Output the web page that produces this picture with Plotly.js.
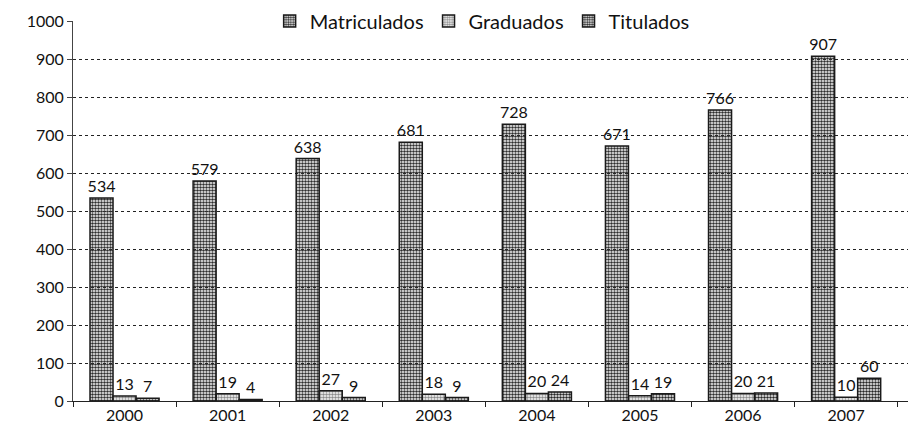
<!DOCTYPE html>
<html><head><meta charset="utf-8">
<script src="https://cdn.plot.ly/plotly-3.0.1.min.js"></script>
<style>html,body{margin:0;padding:0;background:#fff}#c{width:908px;height:440px}</style>
</head><body><div id="c"></div>
<script>
const years = ['2000','2001','2002','2003','2004','2005','2006','2007'];
const matriculados = [534,579,638,681,728,671,766,907];
const graduados = [13,19,27,18,20,14,20,10];
const titulados = [7,4,9,9,24,19,21,60];

function tr(name, vals, fill, fg){
  return {type:'bar', name:name, x:years, y:vals, text:vals.map(String),
    textposition:'outside', cliponaxis:false, constraintext:'none',
    textfont:{family:'Lato, sans-serif', size:16, color:'#111'},
    marker:{color:fill, line:{color:'#1a1a1a', width:1.5}, pattern:{shape:'.', fgcolor:fg, size:3, solidity:0.55}}};
}
const data = [
  tr('Matriculados', matriculados, '#8c8c8c', '#2e2e2e'),
  tr('Graduados', graduados, '#d0d0d0', '#8a8a8a'),
  tr('Titulados', titulados, '#7c7c7c', '#262626')
];
const layout = {
  width:908, height:440, margin:{l:73, r:0, t:21, b:39},
  paper_bgcolor:'#fff', plot_bgcolor:'#fff',
  font:{family:'Lato, sans-serif', size:16, color:'#111'},
  barmode:'group', bargap:0.33, bargroupgap:0,
  showlegend:true,
  legend:{orientation:'h', x:0.49, xanchor:'center', y:1.0, yanchor:'middle',
    bgcolor:'rgba(0,0,0,0)', font:{size:20}, itemwidth:30, traceorder:'normal'},
  xaxis:{type:'category', range:[-0.5,7.6], showline:true, linecolor:'#222', linewidth:1,
    ticks:'outside', tickson:'boundaries', ticklen:5, tickcolor:'#222', showgrid:false,
    tickfont:{size:16}},
  yaxis:{range:[0,1000], dtick:100, showline:true, linecolor:'#444', linewidth:1,
    ticks:'outside', ticklen:5, tickcolor:'#444', showgrid:true, gridcolor:'#222', griddash:'dot', gridwidth:1,
    zeroline:false, tickfont:{size:16}}
};
Plotly.newPlot('c', data, layout, {displayModeBar:false, staticPlot:true});
</script></body></html>
